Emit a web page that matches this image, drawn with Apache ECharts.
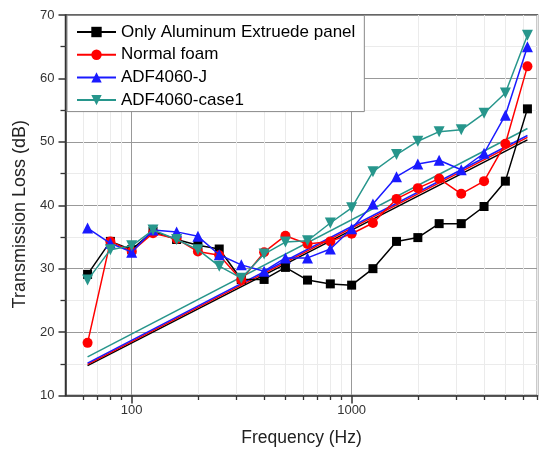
<!DOCTYPE html>
<html>
<head>
<meta charset="utf-8">
<script src="https://cdn.jsdelivr.net/npm/echarts@6/dist/echarts.min.js"></script>
<style>
html,body{margin:0;padding:0;background:#fff;}
#chart{width:542px;height:458px;}
</style>
</head>
<body>
<div id="chart"></div>
<script>
// ---- data ----
const freqs = [63, 80, 100, 125, 160, 200, 250, 315, 400, 500, 630, 800, 1000, 1250, 1600, 2000, 2500, 3150, 4000, 5000, 6300];
const aluminum = [29.1, 34.3, 33.0, 35.9, 34.6, 33.7, 33.1, 28.3, 28.3, 30.2, 28.2, 27.6, 27.4, 30.0, 34.3, 34.9, 37.1, 37.1, 39.8, 43.8, 55.2];
const normalFoam = [18.3, 34.3, 32.7, 35.6, 34.7, 32.7, 32.1, 28.2, 32.6, 35.2, 33.9, 34.3, 35.5, 37.2, 41.0, 42.7, 44.2, 41.8, 43.8, 49.7, 61.9];
const adfJ = [36.4, 34.0, 32.6, 36.1, 35.8, 35.1, 32.2, 30.6, 29.6, 31.7, 31.7, 33.1, 36.3, 40.2, 44.5, 46.5, 47.1, 45.6, 48.2, 54.2, 65.0];
const adfCase1 = [28.2, 33.0, 33.6, 36.1, 34.6, 33.0, 30.4, 28.5, 32.3, 34.2, 34.4, 37.2, 39.6, 45.3, 48.0, 50.1, 51.6, 51.9, 54.5, 57.7, 66.8];

// straight reference (mass-law) lines: values at first and last frequency
const lineFreqs = [63, 6300];
const massAluminum = [14.7, 50.3];
const massFoam = [14.9, 50.7];
const massJ = [15.1, 51.0];
const massCase1 = [16.1, 52.1];

const seriesNames = ['Only Aluminum Extruede panel', 'Normal foam', 'ADF4060-J', 'ADF4060-case1'];
const xMajorTicks = [100, 1000];
const xMinorTicks = [60, 70, 80, 90, 200, 300, 400, 500, 600, 700, 800, 900, 2000, 3000, 4000, 5000, 6000, 7000];

const colors = ['#000000', '#ff0000', '#1a1aff', '#27968c'];

function pairs(xs, ys) { return xs.map((x, i) => [x, ys[i]]); }

const FONT = 'Liberation Sans, Arial, sans-serif';

const chart = echarts.init(document.getElementById('chart'), null, {renderer: 'canvas'});

const mass = [massAluminum, massFoam, massJ, massCase1];
const main = [aluminum, normalFoam, adfJ, adfCase1];
const symbols = ['rect', 'circle', 'triangle', 'triangle'];
const symSizes = [9, 10, 11, 11];
const symRot = [0, 0, 0, 180];

const series = [];
mass.forEach((m, i) => {
  series.push({
    name: seriesNames[i] + ' (mass law)',
    type: 'line',
    data: pairs(lineFreqs, m),
    symbol: 'none',
    lineStyle: {color: colors[i], width: 1.5},
    itemStyle: {color: colors[i]},
    z: 2,
    silent: true
  });
});
main.forEach((d, i) => {
  series.push({
    name: seriesNames[i],
    type: 'line',
    data: pairs(freqs, d),
    symbol: symbols[i],
    symbolSize: symSizes[i],
    symbolRotate: symRot[i],
    lineStyle: {color: colors[i], width: 1.5},
    itemStyle: {color: colors[i]},
    z: 3 + i
  });
});

const option = {
  animation: false,
  backgroundColor: '#fff',
  textStyle: {fontFamily: FONT},
  grid: {
    left: 65.5, right: 4.5, top: 15, bottom: 62.5,
    show: true, borderColor: '#333', borderWidth: 1.5, backgroundColor: 'transparent'
  },
  legend: {
    data: seriesNames,
    orient: 'vertical',
    left: 67, top: 15.5,
    backgroundColor: '#fff',
    borderColor: '#888', borderWidth: 1,
    padding: [8, 9, 3, 9],
    itemWidth: 39, itemHeight: 13, itemGap: 5.7,
    textStyle: {fontFamily: FONT, fontSize: 17, color: '#000', lineHeight: 17},
    z: 10
  },
  xAxis: [
    {
      type: 'log', logBase: 10, min: 50, max: 7000,
      name: 'Frequency (Hz)', nameLocation: 'middle', nameGap: 34,
      nameTextStyle: {fontFamily: FONT, fontSize: 17.5, color: '#222'},
      axisLine: {show: true, lineStyle: {color: '#333', width: 1.5}},
      axisTick: {show: true, inside: false, length: 8, customValues: xMajorTicks, lineStyle: {color: '#333', width: 1.5}},
      axisLabel: {show: true, customValues: xMajorTicks, fontFamily: FONT, fontSize: 13, color: '#333', margin: 8,
                  formatter: v => String(Math.round(v))},
      splitLine: {show: true, lineStyle: {color: '#999', width: 1}},
      minorTick: {show: false}
    },
    {
      type: 'log', logBase: 10, min: 50, max: 7000, position: 'bottom',
      axisLine: {show: false},
      axisTick: {show: true, inside: false, length: 4.5, customValues: xMinorTicks, lineStyle: {color: '#333', width: 1.3}},
      axisLabel: {show: false},
      splitLine: {show: true, lineStyle: {color: '#ebebeb', width: 1}}
    }
  ],
  yAxis: [
    {
      type: 'value', min: 10, max: 70, interval: 10,
      name: 'Transmission Loss (dB)', nameLocation: 'middle', nameGap: 31,
      nameTextStyle: {fontFamily: FONT, fontSize: 18, color: '#222', padding: [0, 0, 0, -18]},
      axisLine: {show: true, lineStyle: {color: '#333', width: 1.5}},
      axisTick: {show: true, inside: false, length: 7, lineStyle: {color: '#333', width: 1.5}},
      axisLabel: {fontFamily: FONT, fontSize: 13, color: '#333', margin: 11},
      splitLine: {show: true, lineStyle: {color: '#999', width: 1}},
      minorTick: {show: true, splitNumber: 2, length: 5, lineStyle: {color: '#333', width: 1.3}},
      minorSplitLine: {show: true, lineStyle: {color: '#ebebeb', width: 1}}
    }
  ],
  series: series.map(s => Object.assign({xAxisIndex: 0, yAxisIndex: 0}, s))
};

chart.setOption(option);
</script>
</body>
</html>
